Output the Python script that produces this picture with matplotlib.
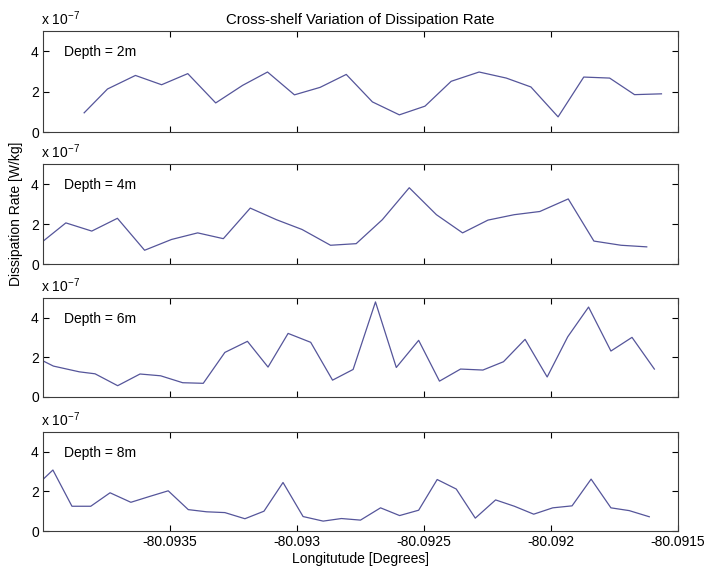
import numpy as np
import matplotlib
matplotlib.use('Agg')
import matplotlib.pyplot as plt

plt.rcParams['font.family'] = ['Liberation Sans', 'DejaVu Sans']
plt.rcParams['mathtext.fontset'] = 'custom'
plt.rcParams['mathtext.rm'] = 'Liberation Sans'

# longitudes (degrees) and dissipation rate (x 1e-7 W/kg) for each depth
lon_2m = [-80.093838, -80.093746, -80.093636, -80.093533, -80.093430, -80.093320,
          -80.093214, -80.093116, -80.093010, -80.092909, -80.092806, -80.092703,
          -80.092597, -80.092496, -80.092393, -80.092283, -80.092176, -80.092079,
          -80.091972, -80.091871, -80.091769, -80.091671, -80.091565]
eps_2m = [0.95, 2.13, 2.80, 2.34, 2.89, 1.44, 2.31, 2.97, 1.84, 2.21, 2.85, 1.49,
          0.85, 1.28, 2.51, 2.97, 2.67, 2.23, 0.75, 2.72, 2.67, 1.85, 1.89]

lon_4m = [-80.093999, -80.093910, -80.093808, -80.093707, -80.093600, -80.093494,
          -80.093391, -80.093290, -80.093184, -80.093081, -80.092980, -80.092868,
          -80.092767, -80.092664, -80.092558, -80.092451, -80.092348, -80.092248,
          -80.092145, -80.092044, -80.091932, -80.091831, -80.091724, -80.091623]
eps_4m = [1.15, 2.06, 1.65, 2.29, 0.69, 1.23, 1.56, 1.27, 2.80, 2.22, 1.73, 0.94,
          1.02, 2.22, 3.82, 2.47, 1.56, 2.20, 2.47, 2.63, 3.26, 1.15, 0.94, 0.86]

lon_6m = [-80.093998, -80.093959, -80.093857, -80.093795, -80.093706, -80.093618,
          -80.093537, -80.093450, -80.093369, -80.093284, -80.093195, -80.093114,
          -80.093035, -80.092946, -80.092860, -80.092779, -80.092691, -80.092609,
          -80.092521, -80.092439, -80.092356, -80.092268, -80.092187, -80.092102,
          -80.092015, -80.091934, -80.091852, -80.091764, -80.091681, -80.091593]
eps_6m = [1.81, 1.56, 1.27, 1.17, 0.57, 1.16, 1.07, 0.72, 0.69, 2.25, 2.81, 1.51,
          3.21, 2.76, 0.85, 1.39, 4.80, 1.49, 2.86, 0.80, 1.41, 1.36, 1.78, 2.91,
          1.01, 3.04, 4.54, 2.32, 3.01, 1.41]

lon_8m = [-80.093998, -80.093961, -80.093886, -80.093812, -80.093736, -80.093654,
          -80.093579, -80.093507, -80.093428, -80.093356, -80.093284, -80.093205,
          -80.093130, -80.093055, -80.092976, -80.092897, -80.092825, -80.092750,
          -80.092671, -80.092596, -80.092521, -80.092448, -80.092373, -80.092298,
          -80.092218, -80.092144, -80.092068, -80.091993, -80.091917, -80.091842,
          -80.091764, -80.091692, -80.091613]
eps_8m = [2.63, 3.08, 1.25, 1.25, 1.93, 1.45, 1.75, 2.03, 1.08, 0.97, 0.93, 0.62,
          1.00, 2.45, 0.73, 0.50, 0.63, 0.55, 1.17, 0.78, 1.05, 2.60, 2.12, 0.65,
          1.57, 1.25, 0.85, 1.17, 1.27, 2.62, 1.17, 1.03, 0.72]

depths = ['2m', '4m', '6m', '8m']
lons = [lon_2m, lon_4m, lon_6m, lon_8m]
eps = [eps_2m, eps_4m, eps_6m, eps_8m]

x_ticks = [-80.0935, -80.093, -80.0925, -80.092, -80.0915]
x_labels = ['-80.0935', '-80.093', '-80.0925', '-80.092', '-80.0915']

fig = plt.figure(figsize=(7.06, 5.74), dpi=100, facecolor='white')

# axes boxes [left, bottom, width, height] in figure fraction
boxes = [[0.0609, 0.770, 0.8994, 0.176],
         [0.0609, 0.540, 0.8994, 0.174],
         [0.0609, 0.3084, 0.8994, 0.1725],
         [0.0609, 0.0749, 0.8994, 0.1725]]

edge = '#3c3c3c'
axes = []
for i in range(4):
    ax = fig.add_axes(boxes[i])
    ax.plot(lons[i], eps[i], color='#55559a', lw=0.9)
    ax.set_xlim(-80.094, -80.0915)
    ax.set_ylim(0, 5)
    ax.set_yticks([0, 2, 4])
    ax.set_yticklabels(['0', '2', '4'])
    ax.set_xticks(x_ticks)
    if i == 3:
        ax.set_xticklabels(x_labels)
    else:
        ax.set_xticklabels([])
    ax.tick_params(direction='in', length=4, width=0.8, top=True, right=True,
                   labelsize=10, colors='black', pad=3)
    for s in ax.spines.values():
        s.set_color(edge)
        s.set_linewidth(0.8)
    ax.text(0.033, 0.79, 'Depth = ' + depths[i], transform=ax.transAxes,
            fontsize=10, ha='left', va='center')
    ax.text(-0.003, 1.03, r'x 10$^{\mathregular{-7}}$', transform=ax.transAxes,
            fontsize=10, ha='left', va='bottom')
    axes.append(ax)

axes[0].set_title('Cross-shelf Variation of Dissipation Rate', fontsize=10.8, pad=5)
axes[1].set_ylabel('Dissipation Rate [W/kg]', fontsize=10, labelpad=6)
axes[3].set_xlabel('Longitutude [Degrees]', fontsize=10, labelpad=2)

plt.savefig('out.png', dpi=100, facecolor='white')
